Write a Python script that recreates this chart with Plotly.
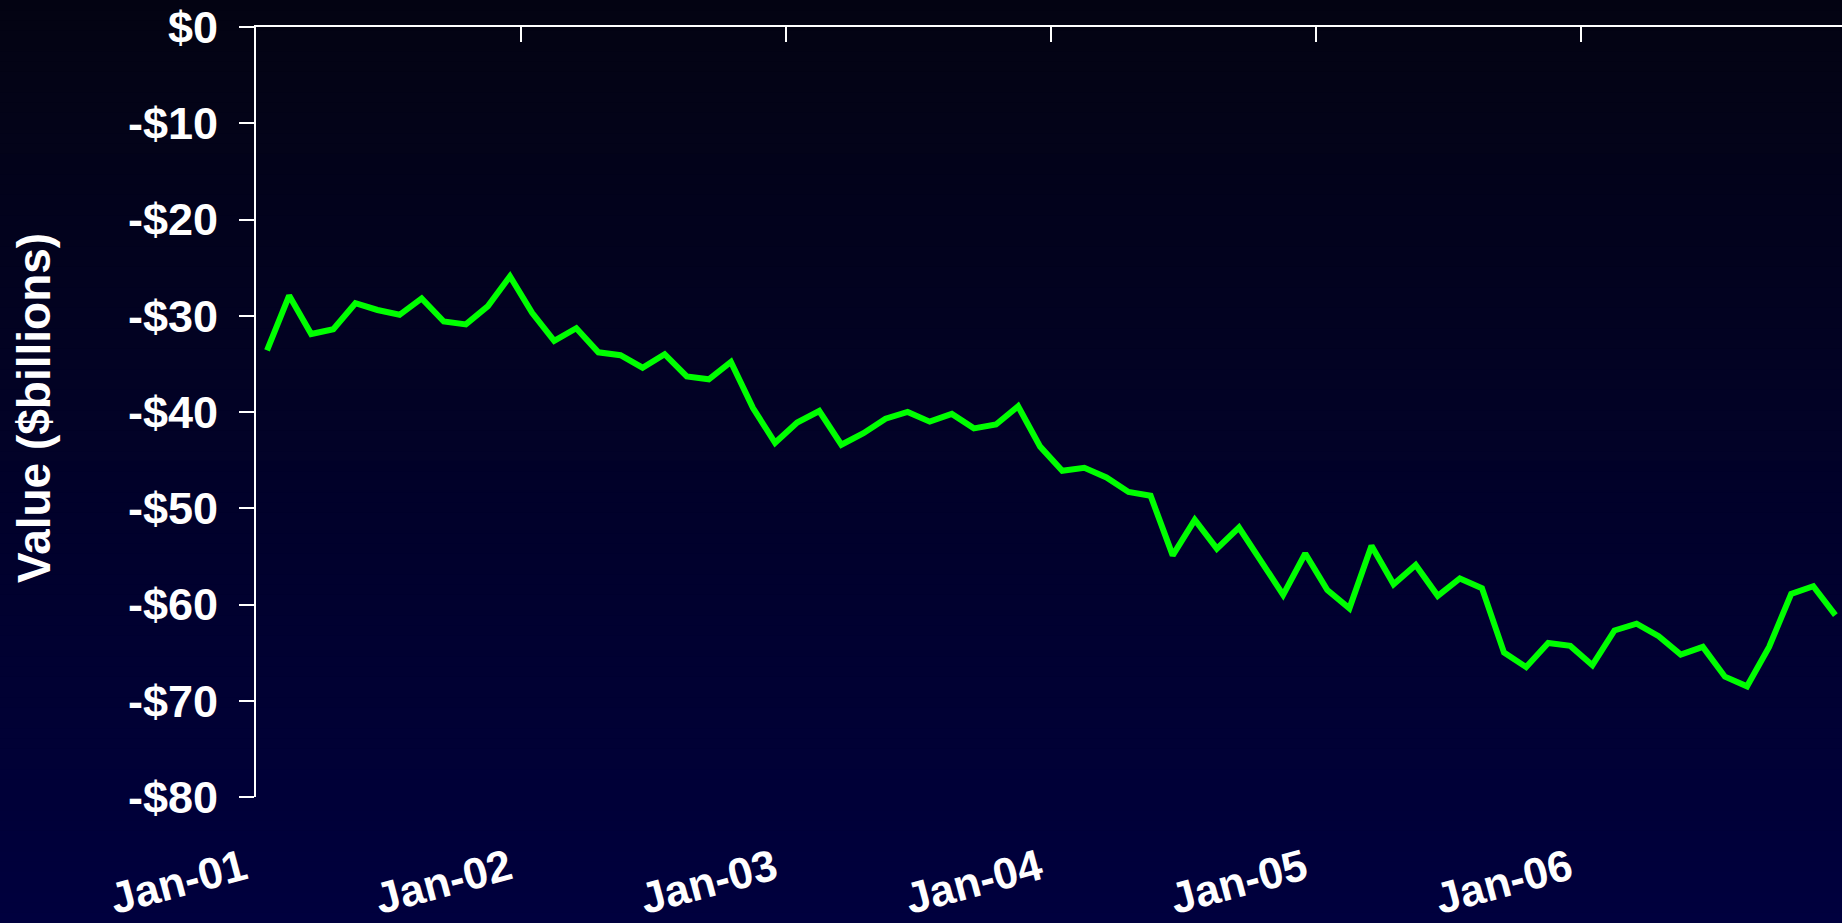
import plotly.graph_objects as go

# ---- data ----
months = [f"{m}-{y:02d}" for y in range(1, 7) for m in
          ["Jan", "Feb", "Mar", "Apr", "May", "Jun", "Jul", "Aug", "Sep", "Oct", "Nov", "Dec"]]
values = [
    -33.6, -27.9, -31.9, -31.4, -28.7, -29.4, -29.9, -28.2, -30.6, -30.9, -29.0, -25.9,
    -29.7, -32.6, -31.3, -33.8, -34.1, -35.4, -34.0, -36.3, -36.6, -34.8, -39.6, -43.2,
    -41.1, -39.9, -43.4, -42.2, -40.7, -40.0, -41.0, -40.2, -41.7, -41.3, -39.4, -43.6,
    -46.1, -45.8, -46.8, -48.3, -48.7, -54.9, -51.2, -54.2, -52.0, -55.4, -59.0, -54.7,
    -58.5, -60.4, -53.9, -57.9, -55.9, -59.1, -57.3, -58.3, -65.0, -66.5, -64.0, -64.3,
    -66.3, -62.7, -62.0, -63.3, -65.2, -64.4, -67.5, -68.5, -64.4, -58.9, -58.1, -61.1,
]
year_labels = ["Jan-01", "Jan-02", "Jan-03", "Jan-04", "Jan-05", "Jan-06"]
y_ticks = [0, -10, -20, -30, -40, -50, -60, -70, -80]
y_ticktext = ["$0" if v == 0 else f"-${abs(v)}" for v in y_ticks]

W, H = 1842, 923
L, R, T, B = 256, 0, 27, 126
idx = list(range(len(values)))
year_pos = [12 * i - 0.5 for i in range(len(year_labels))]
xrange_ = [-0.5, 71.3]

font = dict(family="Liberation Sans, Arial, sans-serif", color="white", weight="bold")

fig = go.Figure()
fig.add_trace(go.Scatter(x=idx, y=values, mode="lines", text=months,
                         line=dict(color="#00ff00", width=6), hoverinfo="text+y"))
# invisible trace to activate the top axis
fig.add_trace(go.Scatter(x=[idx[0]], y=[values[0]], xaxis="x2", mode="markers",
                         marker=dict(opacity=0), hoverinfo="skip", showlegend=False))

# gradient background via bands
N = 90
plot_h = H - T - B
plot_w = W - L - R
top_c = (3, 3, 18)
bot_c = (0, 0, 62)
shapes = []
for i in range(N):
    p0 = i * H / N
    p1 = (i + 1) * H / N + 1
    t = (i + 0.5) / N
    c = tuple(round(top_c[k] + (bot_c[k] - top_c[k]) * t) for k in range(3))
    shapes.append(dict(type="rect", xref="paper", yref="paper", layer="below",
                       x0=-L / plot_w - 0.01, x1=1.01,
                       y0=(H - B - p1) / plot_h, y1=(H - B - p0) / plot_h,
                       line=dict(width=0), fillcolor=f"rgb{c}"))

fig.update_layout(
    width=W, height=H,
    margin=dict(l=L, r=R, t=T, b=B, pad=0, autoexpand=False),
    paper_bgcolor="rgb(0,0,62)",
    plot_bgcolor="rgba(0,0,0,0)",
    showlegend=False,
    shapes=shapes,
    xaxis=dict(range=xrange_, tickmode="array", tickvals=year_pos, ticktext=year_labels,
               tickangle=-15, showline=False, ticks="", showgrid=False, zeroline=False,
               automargin=False,
               ticklabelstandoff=37, ticklabelshift=-12, tickfont=dict(size=44, **font)),
    xaxis2=dict(range=xrange_, overlaying="x", side="top", tickmode="array",
                tickvals=year_pos, showticklabels=False, ticks="inside", ticklen=15,
                tickwidth=2, tickcolor="white", showline=True, linecolor="white",
                linewidth=2, showgrid=False, zeroline=False, automargin=False),
    yaxis=dict(range=[-80, 0], tickmode="array", tickvals=y_ticks, ticktext=y_ticktext,
               ticks="outside", ticklen=15, tickwidth=2, tickcolor="white",
               showline=True, linecolor="white", linewidth=2, showgrid=False,
               zeroline=False, automargin=False,
               ticklabelstandoff=12, tickfont=dict(size=45, **font)),
    annotations=[dict(text="Value ($billions)", textangle=-90, xref="paper", yref="paper",
                      x=(34 - L) / plot_w, y=(H - B - 408) / plot_h, xanchor="center",
                      yanchor="middle", showarrow=False, font=dict(size=46, **font))],
)

fig.write_html("out.html")
